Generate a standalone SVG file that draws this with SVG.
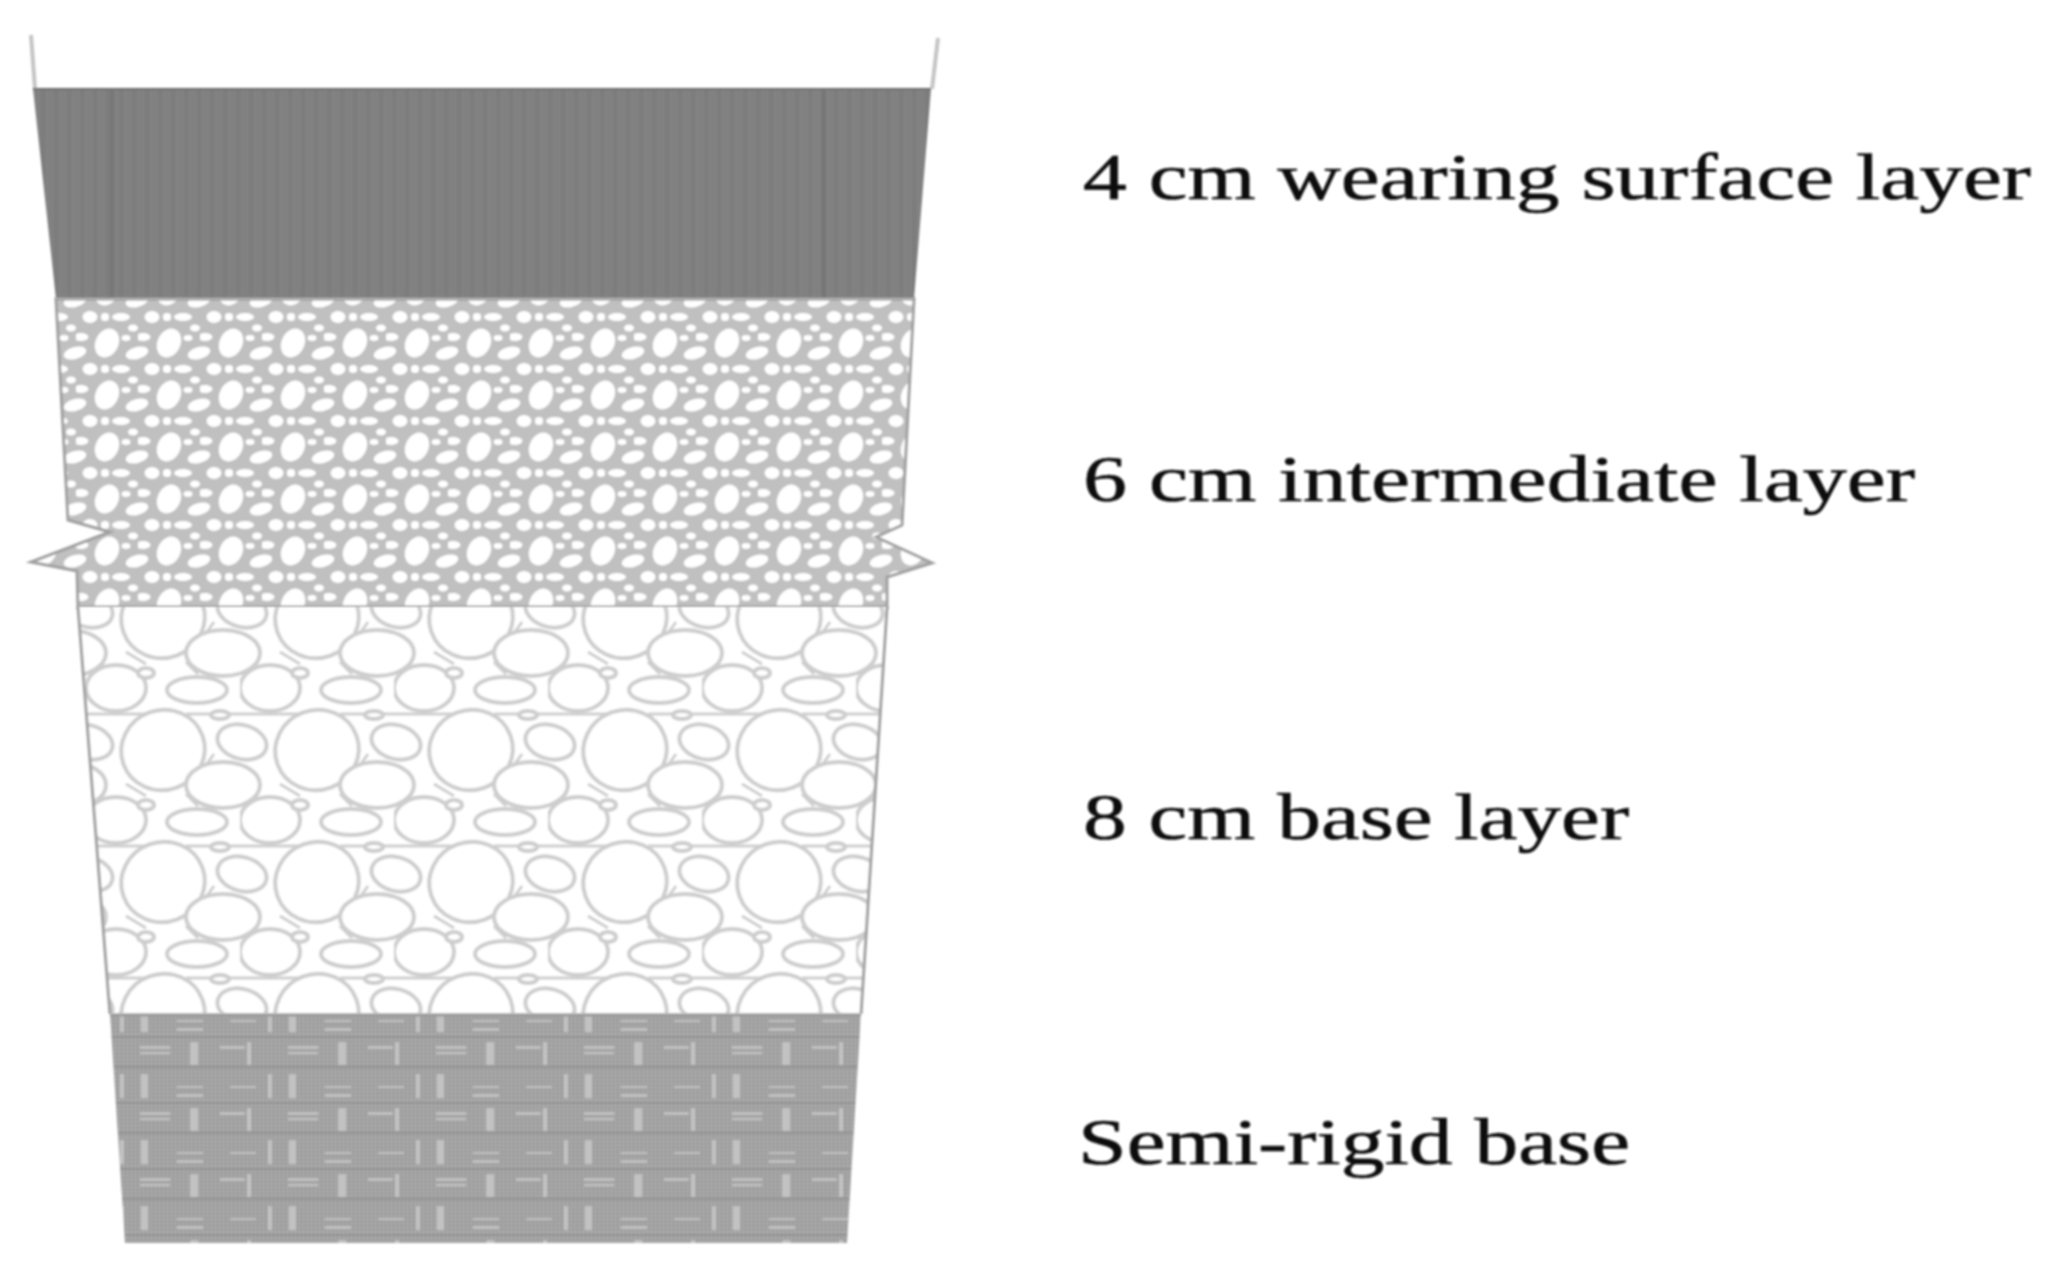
<svg xmlns="http://www.w3.org/2000/svg" width="2060" height="1278" viewBox="0 0 2060 1278">
<style>
.lbl{font-family:"Liberation Serif","Times New Roman",serif;font-size:65px;fill:#111;stroke:#111;stroke-width:0.6;filter:url(#soft)}
.st{fill:#fff}
.bs{fill:#fff;stroke:#cdcdcd;stroke-width:4}
.hl{fill:#c2c2c2}
.edge{fill:none;stroke:#a0a0a0;stroke-width:3}
</style>
<defs>
<filter id="blur" x="-5%" y="-5%" width="110%" height="110%"><feGaussianBlur stdDeviation="1.1"/></filter>
<filter id="soft" x="-5%" y="-20%" width="110%" height="140%"><feGaussianBlur stdDeviation="0.8"/></filter>
<pattern id="stripes" patternUnits="userSpaceOnUse" x="33" y="0" width="13" height="40">
<rect width="13" height="40" fill="#7f7f7f"/>
<rect x="1" width="1.5" height="40" fill="#858585"/>
<rect x="5" width="1.5" height="40" fill="#848484"/>
<rect x="9" width="1.5" height="40" fill="#797979"/>
</pattern>
<pattern id="gravel" patternUnits="userSpaceOnUse" x="76" y="317" width="62" height="52">
<rect width="62" height="52" fill="#c0c0c0"/>
<g class="st">
<ellipse cx="31" cy="26" rx="11.5" ry="15" transform="rotate(25 31 26)"/>
<ellipse cx="61" cy="36" rx="11.5" ry="6" transform="rotate(-15 61 36)"/>
<ellipse cx="-1" cy="36" rx="11.5" ry="6" transform="rotate(-15 -1 36)"/>
<ellipse cx="5" cy="20" rx="7.5" ry="4"/>
<ellipse cx="57" cy="11" rx="5" ry="3.5"/>
<ellipse cx="14" cy="0" rx="7.5" ry="6"/>
<ellipse cx="14" cy="52" rx="7.5" ry="6"/>
<ellipse cx="45" cy="0" rx="9" ry="4"/>
<ellipse cx="45" cy="52" rx="9" ry="4"/>
<ellipse cx="29" cy="1" rx="4" ry="3"/>
<ellipse cx="29" cy="51" rx="4" ry="3"/>
<ellipse cx="50" cy="21" rx="4.5" ry="3"/>
</g>
</pattern>
<pattern id="stones" patternUnits="userSpaceOnUse" x="86" y="684" width="154" height="132">
<rect width="154" height="132" fill="#fff"/>
<path d="M0 30H60M100 30H154M0 128H60M118 84L128 70M40 100L60 112M100 110L112 122" fill="none" stroke="#cdcdcd" stroke-width="3"/>
<g class="bs">
<ellipse cx="30" cy="4" rx="30" ry="23"/><ellipse cx="30" cy="136" rx="30" ry="23"/>
<ellipse cx="111" cy="6" rx="30" ry="13"/><ellipse cx="111" cy="138" rx="30" ry="13"/>
<ellipse cx="77" cy="66" rx="42" ry="40" transform="rotate(-20 77 66)"/>
<ellipse cx="137" cy="101" rx="37" ry="23"/><ellipse cx="-17" cy="101" rx="37" ry="23"/>
<ellipse cx="156" cy="58" rx="25" ry="17" transform="rotate(15 156 58)"/><ellipse cx="2" cy="58" rx="25" ry="17" transform="rotate(15 2 58)"/>
<ellipse cx="134" cy="31" rx="9" ry="4"/>
<ellipse cx="60" cy="121" rx="8" ry="5"/>
</g>
</pattern>
<pattern id="mesh" patternUnits="userSpaceOnUse" width="4" height="4">
<rect width="4" height="4" fill="#ababab"/>
<rect x="3" width="1" height="4" fill="#969696"/>
<rect y="3" width="4" height="1" fill="#999"/>
</pattern>
<pattern id="weave" patternUnits="userSpaceOnUse" x="130" y="1034" width="148" height="66">
<rect width="148" height="66" fill="url(#mesh)"/>
<rect x="0" y="2" width="148" height="2" fill="#909090"/>
<rect x="0" y="32" width="148" height="2" fill="#959595"/>
<g class="hl">
<rect x="10" y="12" width="30" height="3"/>
<rect x="10" y="18" width="30" height="2"/>
<rect x="90" y="12" width="25" height="3"/>
<rect x="60" y="8" width="8" height="23"/>
<rect x="117" y="8" width="4" height="23"/>
<rect x="11" y="40" width="7" height="24"/>
<rect x="138" y="40" width="4" height="24"/>
<rect x="47" y="60" width="26" height="3"/>
<rect x="47" y="52" width="26" height="2"/>
<rect x="100" y="52" width="26" height="2"/>
</g>
</pattern>
</defs>
<rect width="2060" height="1278" fill="#fff"/>
<g id="walls" filter="url(#blur)">
<path d="M31 35L35 89" fill="none" stroke="#c4c4c4" stroke-width="4"/>
<path d="M938 38L932 89" fill="none" stroke="#c4c4c4" stroke-width="4"/>
</g>
<g id="wearing-surface-layer" filter="url(#blur)">
<polygon points="33,89 931,89 914,299 56,299" fill="url(#stripes)"/>
<path d="M33 89H931" fill="none" stroke="#6e6e6e" stroke-width="2"/>
<path d="M112 89V299M824 89V299" fill="none" stroke="#747474" stroke-width="3"/>
</g>
<g id="intermediate-layer" filter="url(#blur)">
<polygon points="56,299 914,299 902,525 876,537 932,563 887,577 887,607 78,607 77,571 31,562 110,532 68,520" fill="url(#gravel)"/>
<polygon class="edge" points="56,299 914,299 902,525 876,537 932,563 887,577 887,607 78,607 77,571 31,562 110,532 68,520"/>
</g>
<g id="base-layer" filter="url(#blur)">
<polygon points="78,607 887,607 861,1014 110,1014" fill="url(#stones)"/>
<path class="edge" d="M78 607L110 1014M887 607L861 1014"/>
</g>
<g id="semi-rigid-base" filter="url(#blur)">
<polygon points="110,1014 861,1014 847,1243 125,1243" fill="url(#weave)"/>
<path d="M110 1015H861" fill="none" stroke="#999" stroke-width="3"/>
</g>
<g id="labels">
<text class="lbl" x="1083" y="199" textLength="948" lengthAdjust="spacingAndGlyphs">4 cm wearing surface layer</text>
<text class="lbl" x="1083" y="501" textLength="832" lengthAdjust="spacingAndGlyphs">6 cm intermediate layer</text>
<text class="lbl" x="1083" y="839" textLength="546" lengthAdjust="spacingAndGlyphs">8 cm base layer</text>
<text class="lbl" x="1078" y="1164" textLength="552" lengthAdjust="spacingAndGlyphs">Semi-rigid base</text>
</g>
</svg>
